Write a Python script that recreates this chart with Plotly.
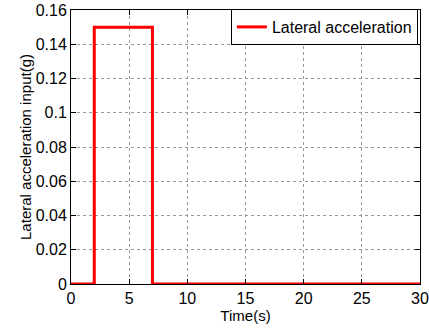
import plotly.graph_objects as go

time_s = [0, 2, 2, 7, 7, 30]
lat_acc = [0, 0, 0.15, 0.15, 0, 0]
x_ticks = [0, 5, 10, 15, 20, 25, 30]
x_ticklabels = ["0", "5", "10", "15", "20", "25", "30"]
y_ticks = [0, 0.02, 0.04, 0.06, 0.08, 0.1, 0.12, 0.14, 0.16]
y_ticklabels = ["0", "0.02", "0.04", "0.06", "0.08", "0.1", "0.12", "0.14", "0.16"]

FONT = "Liberation Sans"

fig = go.Figure()
fig.add_trace(go.Scatter(x=time_s, y=lat_acc, mode="lines",
                         line=dict(color="#ff0000", width=3),
                         name="Lateral acceleration"))

axis_common = dict(showline=True, linecolor="black", linewidth=1, mirror="allticks",
                   ticks="inside", ticklen=5, tickcolor="black",
                   showgrid=True, gridcolor="#999999", griddash="dot", gridwidth=1,
                   zeroline=False, automargin=False,
                   tickfont=dict(family=FONT, size=16, color="black"))

fig.update_xaxes(range=[0, 30], tickvals=x_ticks, ticktext=x_ticklabels, ticklabelstandoff=0,
                 title=dict(text="Time(s)", font=dict(family=FONT, size=15, color="black"), standoff=0),
                 **axis_common)
fig.update_yaxes(range=[0, 0.16], tickvals=y_ticks, ticktext=y_ticklabels, ticklabelstandoff=0,
                 title=dict(text="Lateral acceleration input(g)", font=dict(family=FONT, size=15, color="black"), standoff=0),
                 **axis_common)

fig.update_layout(
    width=429, height=331,
    margin=dict(l=71, r=9, t=10, b=47),
    paper_bgcolor="white", plot_bgcolor="white",
    font=dict(family=FONT, size=15, color="black"),
    showlegend=True,
    legend=dict(x=0.994, y=0.938, xanchor="right", yanchor="middle",
                bgcolor="white", bordercolor="black", borderwidth=1,
                font=dict(family=FONT, size=16, color="black"),
                itemwidth=30, tracegroupgap=0),
)

fig.write_html("out.html", config={"displayModeBar": False},
               post_script="document.body.style.margin='0';document.body.style.padding='0';")
